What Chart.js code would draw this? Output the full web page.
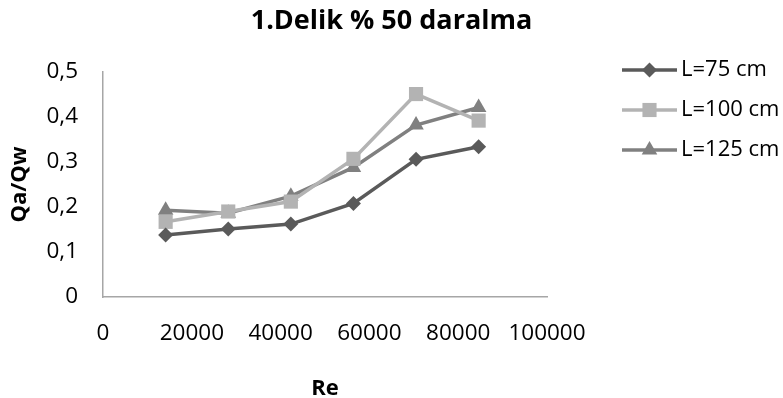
<!DOCTYPE html>
<html>
<head>
<meta charset="utf-8">
<script src="https://cdn.jsdelivr.net/npm/chart.js@4.4.1/dist/chart.umd.min.js"></script>
<style>
  html, body { margin: 0; padding: 0; background: #fff; }
  #wrap { width: 783px; height: 398px; position: relative; }
</style>
</head>
<body>
<div id="wrap"><canvas id="chart"></canvas></div>
<script>
// --- Data ---
const reValues = [14100, 28200, 42300, 56400, 70500, 84600];
const seriesLabels = ['L=75 cm', 'L=100 cm', 'L=125 cm'];
const qaQw75 = [0.138, 0.151, 0.162, 0.208, 0.306, 0.334];
const qaQw100 = [0.167, 0.190, 0.212, 0.307, 0.451, 0.392];
const qaQw125 = [0.193, 0.186, 0.224, 0.288, 0.382, 0.421];
const xTickLabels = ['0', '20000', '40000', '60000', '80000', '100000'];
const yTickLabels = ['0', '0,1', '0,2', '0,3', '0,4', '0,5'];

Chart.defaults.font.family = "'Open Sans', sans-serif";
Chart.defaults.color = '#000';

const toPoints = (ys) => ys.map((y, i) => ({ x: reValues[i], y: y }));

// draws a marker the same way Chart.js does (used in the legend)
function drawMarker(ctx, style, x, y, r, color) {
    ctx.fillStyle = color;
    ctx.beginPath();
    if (style === 'rectRot') {
        ctx.moveTo(x - r, y); ctx.lineTo(x, y - r);
        ctx.lineTo(x + r, y); ctx.lineTo(x, y + r);
    } else if (style === 'rect') {
        const s = Math.SQRT1_2 * r;
        ctx.rect(x - s, y - s, 2 * s, 2 * s);
    } else if (style === 'triangle') {
        ctx.moveTo(x, y - r);
        ctx.lineTo(x + Math.sin(2 * Math.PI / 3) * r, y + r / 2);
        ctx.lineTo(x - Math.sin(2 * Math.PI / 3) * r, y + r / 2);
    }
    ctx.closePath();
    ctx.fill();
}

// legend on the right: line with the marker in the middle
const lineLegend = {
    id: 'lineLegend',
    afterDraw(chart) {
        const ctx = chart.ctx;
        ctx.save();
        chart.data.datasets.forEach((ds, i) => {
            const y = 70 + i * 40;
            ctx.strokeStyle = ds.borderColor;
            ctx.lineWidth = ds.borderWidth;
            ctx.beginPath();
            ctx.moveTo(622, y);
            ctx.lineTo(677, y);
            ctx.stroke();
            drawMarker(ctx, ds.pointStyle, 649.5, y, ds.pointRadius, ds.pointBackgroundColor);
            ctx.fillStyle = '#000';
            ctx.font = "22px 'Open Sans'";
            ctx.textBaseline = 'middle';
            ctx.textAlign = 'left';
            ctx.fillText(ds.label, 681, y);
        });
        ctx.restore();
    }
};

const colors = ['#5a5a5a', '#b3b3b3', '#808080'];
const styles = ['rectRot', 'rect', 'triangle'];
const radii = [7.5, 10, 9];
const allSeries = [qaQw75, qaQw100, qaQw125];

const datasets = allSeries.map((vals, i) => ({
    label: seriesLabels[i],
    data: toPoints(vals),
    borderColor: colors[i],
    backgroundColor: colors[i],
    pointBackgroundColor: colors[i],
    pointBorderColor: colors[i],
    pointBorderWidth: 0,
    borderWidth: 3.5,
    pointStyle: styles[i],
    pointRadius: radii[i],
    pointHoverRadius: radii[i],
    showLine: true,
    tension: 0
}));

new Chart(document.getElementById('chart'), {
    type: 'scatter',
    data: { datasets: datasets },
    plugins: [lineLegend],
    options: {
        responsive: true,
        maintainAspectRatio: false,
        animation: false,
        plugins: {
            legend: { display: false },
            tooltip: { enabled: false },
            title: {
                display: true,
                text: '1.Delik % 50 daralma',
                color: '#000',
                font: { size: 27, weight: 'bold', lineHeight: 1.2 },
                padding: { top: 5, bottom: 34.6 }
            }
        },
        scales: {
            x: {
                type: 'linear',
                min: 0,
                max: 100000,
                grid: { display: false, drawTicks: false },
                border: { display: true, color: '#a6a6a6', width: 1.5 },
                ticks: {
                    stepSize: 20000,
                    padding: 23.5,
                    maxRotation: 0,
                    autoSkip: false,
                    font: { size: 22.5 },
                    callback: (v, i) => xTickLabels[i]
                },
                title: {
                    display: true,
                    text: 'Re',
                    font: { size: 22, weight: 'bold', lineHeight: '19px' },
                    padding: { top: 8, bottom: 0 }
                },
                // keep room on the right for the legend
                afterFit: (scale) => { scale.paddingRight = 236; }
            },
            y: {
                min: 0,
                max: 0.5,
                grid: { display: false, drawTicks: false },
                border: { display: true, color: '#a6a6a6', width: 1.5 },
                ticks: {
                    stepSize: 0.1,
                    padding: 25,
                    font: { size: 22.5 },
                    callback: (v, i) => yTickLabels[i]
                },
                title: {
                    display: true,
                    text: 'Qa/Qw',
                    font: { size: 22, weight: 'bold', lineHeight: '21px' },
                    padding: { top: 9, bottom: -8.5 }
                }
            }
        }
    }
});
</script>
</body>
</html>
